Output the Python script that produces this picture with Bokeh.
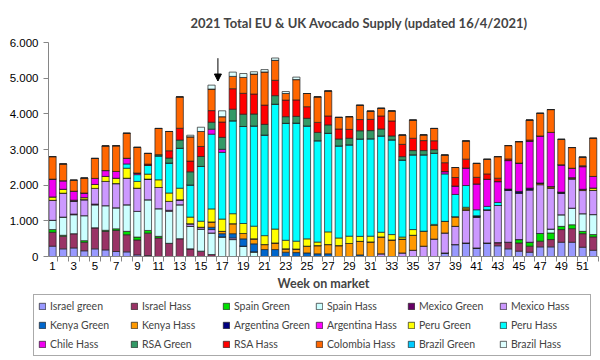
from bokeh.plotting import figure
from bokeh.layouts import column
from bokeh.models import ColumnDataSource, Legend, LegendItem, FixedTicker, Arrow, NormalHead
from bokeh.embed import file_html
from bokeh.resources import INLINE

weeks = list(range(1, 53))

israel_green = [290, 215, 240, 160, 215, 185, 140, 130, 45, 25] + [0] * 27 + \
    [100, 335, 380, 240, 380, 300, 215, 150, 120, 270, 270, 400, 400, 260, 175]
israel_hass = [390, 355, 400, 240, 590, 520, 590, 480, 420, 630, 520, 370, 500, 215, 150, 55] + [0] * 26 + \
    [90, 185, 230, 170, 160, 205, 355, 380, 380, 375]
spain_green = [75, 25, 0, 45, 0, 30, 45, 95, 80, 75, 45] + [0] * 33 + \
    [95, 110, 215, 185, 90, 110, 65, 65]
spain_hass = [260, 510, 530, 700, 640, 690, 590, 745, 720, 860, 775, 900, 950, 630, 620, 605, 550, 475, 290, 130] + \
    [0] * 27 + [110, 325, 465, 495, 560]
mexico_green = [0, 0, 20, 0, 25, 0, 0, 0, 0, 0, 0, 25] + [0] * 40
mexico_hass = [560, 670, 370, 450, 440, 680, 680, 745, 650, 580, 595, 250, 140, 75, 50, 95, 0, 45] + [0] * 13 + \
    [75, 0, 100, 175, 290, 490, 560, 510, 910, 865, 930, 1040, 1455, 1305, 1470, 1370, 1145, 605, 820, 650, 680]
kenya_green = [0] * 15 + [65, 90, 120, 205, 225, 195, 195, 120, 110, 100, 75, 75, 0, 0, 45] + [0] * 22
kenya_hass = [0] * 15 + [150, 65, 280, 150, 140, 140, 185, 95, 100, 190, 230, 260, 305, 365, 380, 410, 475, 465,
                         390, 420, 420, 380, 325, 270, 50, 0, 0, 0, 0, 0, 0, 45, 45, 0, 35, 35, 0]
argentina_green = [0] * 40 + [35, 0, 0, 35, 45, 45, 0, 0, 30, 0, 0, 0]
argentina_hass = [0] * 52
peru_green = [95, 110, 20, 55, 110, 140, 150, 280, 190, 140, 215, 235, 325, 185, 170, 365, 345, 280, 280, 355,
              250, 390, 240, 220, 205, 100, 355, 215, 205, 140, 160, 130, 150, 55, 160, 0, 30, 0, 0, 40] + \
    [0] * 11 + [65]
peru_hass = [0] * 7 + [120, 190, 250, 670, 840, 1120, 900, 1535, 2095, 1870, 2605, 2720, 2810, 2820, 3500, 3280,
                       3310, 3165, 2840, 2765, 2580, 2560, 2730, 2730, 2700, 2655, 2160, 2095, 2140, 1995, 1330,
                       625, 610, 170, 95, 85] + [0] * 9
chile_hass = [500, 240, 250, 130, 170, 165, 190, 160, 45, 0, 0, 0, 0, 0, 0, 140, 85] + [0] * 20 + \
    [65, 235, 490, 725, 760, 585, 800, 795, 1320, 1320, 1520, 765, 265, 635, 325]
rsa_green = [0] * 10 + [35, 140, 230, 370, 280, 195, 335, 325, 345, 335, 300, 240, 185, 190, 215, 235, 235, 195,
                        185, 230, 230, 195, 110, 95, 120, 120, 100] + [0] * 15
rsa_hass = [0] * 9 + [30, 0, 205, 330, 300, 280, 325, 430, 575, 585, 560, 540, 430, 465, 460, 325, 280, 250, 280,
                      250, 315, 315, 365, 420, 345, 345, 280, 250, 250, 240, 250, 185, 150, 95, 45, 0, 30, 0, 0,
                      0, 0, 25, 0]
colombia_hass = [630, 470, 310, 420, 560, 690, 720, 700, 720, 300, 735, 540, 880, 680, 420, 605, 150, 345, 445, 560,
                 930, 560, 185, 570, 370, 715, 700, 325, 355, 400, 230, 215, 280, 260, 510, 160, 345, 215, 280, 510,
                 390, 410, 605, 375, 600, 560, 635, 640, 715, 580, 240, 1070]
brazil_green = [0] * 52
brazil_hass = [0] * 13 + [45, 120, 110, 165, 120, 110, 65, 65, 65, 55, 70] + [0] * 28

series_labels = ["Israel green", "Israel Hass", "Spain Green", "Spain Hass", "Mexico Green", "Mexico Hass",
                 "Kenya Green", "Kenya Hass", "Argentina Green", "Argentina Hass", "Peru Green", "Peru Hass",
                 "Chile Hass", "RSA Green", "RSA Hass", "Colombia Hass", "Brazil Green", "Brazil Hass"]
series_values = [israel_green, israel_hass, spain_green, spain_hass, mexico_green, mexico_hass,
                 kenya_green, kenya_hass, argentina_green, argentina_hass, peru_green, peru_hass,
                 chile_hass, rsa_green, rsa_hass, colombia_hass, brazil_green, brazil_hass]
colors = ["#9999FF", "#993366", "#00E000", "#CCFFFF", "#660066", "#CC99FF",
          "#0066CC", "#FF9900", "#000080", "#FF00FF", "#FFFF00", "#00FFFF",
          "#F000F0", "#339966", "#FF0000", "#FF6600", "#00CCFF", "#DDFFFF"]

y_ticks = [0, 1000, 2000, 3000, 4000, 5000, 6000]
y_tick_labels = ["0", "1.000", "2.000", "3.000", "4.000", "5.000", "6.000"]
arrow_week = 16.6
arrow_from, arrow_to = 5560, 4920

keys = ["s%d" % i for i in range(len(series_labels))]
data = {"week": weeks}
for k, v in zip(keys, series_values):
    data[k] = v
source = ColumnDataSource(data)

p = figure(width=600, height=293, x_range=(0.62, 52.5), y_range=(0, 6000),
           output_backend="svg", toolbar_location=None,
           min_border_left=48, min_border_right=2, min_border_top=42, min_border_bottom=36)
p.frame_align = False

renderers = p.vbar_stack(keys, x="week", width=0.68, color=colors, line_color="#222222",
                         line_width=0.7, source=source)

p.title.text = "2021 Total EU & UK Avocado Supply (updated 16/4/2021)"
p.title.text_font = "Lato"
p.title.text_font_style = "bold"
p.title.text_font_size = "13px"
p.title.align = "left"
p.title.offset = 142
p.title.standoff = 23

p.xgrid.visible = False
p.ygrid.visible = False
p.outline_line_color = None

p.yaxis.ticker = FixedTicker(ticks=y_ticks)
p.yaxis.major_label_overrides = {t: l for t, l in zip(y_ticks, y_tick_labels)}
p.yaxis.minor_tick_line_color = None
p.yaxis.major_tick_in = 0
p.yaxis.major_tick_out = 5
p.yaxis.axis_line_color = "#868686"
p.yaxis.major_tick_line_color = "#868686"
p.yaxis.major_label_text_font = "Liberation Sans"
p.yaxis.major_label_text_font_size = "11.5px"
p.yaxis.major_label_text_color = "black"

p.xaxis.ticker = FixedTicker(ticks=[w for w in weeks if w % 2 == 1],
                             minor_ticks=[k + 0.5 for k in range(0, 53)])
p.xaxis.major_tick_line_color = None
p.xaxis.major_tick_out = 0
p.xaxis.major_tick_in = 0
p.xaxis.minor_tick_out = 5
p.xaxis.minor_tick_in = 0
p.xaxis.minor_tick_line_color = "#868686"
p.xaxis.axis_line_color = "#868686"
p.xaxis.major_label_standoff = 0
p.xaxis.major_label_text_font = "Liberation Sans"
p.xaxis.major_label_text_font_size = "11.5px"
p.xaxis.major_label_text_color = "black"
p.xaxis.axis_label = "Week on market"
p.xaxis.axis_label_text_font = "Lato"
p.xaxis.axis_label_text_font_style = "bold"
p.xaxis.axis_label_text_font_size = "12.5px"
p.xaxis.axis_label_standoff = 3

p.add_layout(Arrow(end=NormalHead(size=7, fill_color="black", line_color="black"),
                   x_start=arrow_week, y_start=arrow_from, x_end=arrow_week, y_end=arrow_to,
                   line_width=1, line_color="black"))

# legend panel (separate figure so that the legend is not clipped)
lg = figure(width=600, height=67, x_range=(0, 1), y_range=(0, 1),
            output_backend="svg", toolbar_location=None,
            x_axis_location=None, y_axis_location=None, min_border=0)
lg.frame_align = False
lg.grid.visible = False
lg.outline_line_color = None
proxy_src = ColumnDataSource(dict(x=[-100], top=[0]))
proxies = [lg.vbar(x="x", top="top", width=0.5, source=proxy_src, fill_color=c,
                   line_color="#222222", line_width=0.7) for c in colors]

items = [LegendItem(label=lab, renderers=[r]) for lab, r in zip(series_labels, proxies)]
legend = Legend(items=items, orientation="horizontal", ncols=6,
                label_text_font="Lato", label_text_font_size="10.5px",
                glyph_width=8, glyph_height=8, label_standoff=4, label_width=75, label_height=14,
                spacing=5, padding=4, margin=0, border_line_color="#555555", border_line_width=1,
                background_fill_alpha=1.0, location=(33, 4))
lg.add_layout(legend, "center")

open("out.html", "w").write(file_html(column(p, lg, spacing=0), INLINE))
